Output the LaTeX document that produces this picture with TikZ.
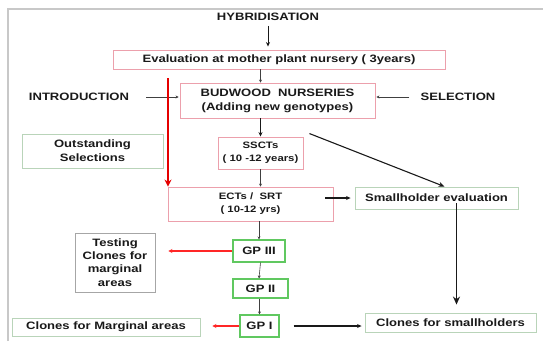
\documentclass[tikz,border=0pt]{standalone}
\usepackage{fontspec}
\setmainfont{Liberation Sans}[FakeStretch=1.22]
\usepackage{xcolor}
\usepackage{tikz}
\usetikzlibrary{
    positioning,
    arrows.meta,
    calc,
}
\definecolor{pinkline}{RGB}{236,160,172}
\definecolor{gpgreen}{RGB}{96,200,96}
\definecolor{palegreen}{RGB}{185,212,185}
\definecolor{frameline}{RGB}{200,200,200}
\tikzset{
    % Text styles
    txt/.style={font=\bfseries\fontsize{10.7}{14}\selectfont, text=black!90, align=center, inner sep=1pt},
    smalltxt/.style={font=\bfseries\fontsize{9.3}{13}\selectfont, text=black!90, align=center},
    % Box styles
    box/.style={rectangle, draw, line width=0.9pt, txt, inner sep=1pt},
    pink box/.style={box, draw=pinkline},
    gp box/.style={box, draw=gpgreen, line width=1.1pt},
    pale box/.style={box, draw=palegreen},
    grey box/.style={box, draw=gray!70, font=\bfseries\fontsize{10.7}{13.3}\selectfont},
    % Arrow styles
    arrow/.style={-{Stealth[length=4.5pt, width=4pt]}, line width=0.9pt, black!90},
    thin arrow/.style={-{Stealth[length=3pt, width=3pt]}, line width=0.6pt, black!75},
    red arrow/.style={-{Stealth[length=7pt, width=7pt]}, line width=2.6pt, red!90!black},
    red thin arrow/.style={-{Stealth[length=4pt, width=4pt]}, line width=1.1pt, red!85},
}

\begin{document}
\begin{tikzpicture}[x=1pt, y=-1pt]
    \useasboundingbox (0,0) rectangle (543,341);

    % Frame
    \draw[frameline, line width=1.2pt] (8,341) -- (8,9) -- (543,9);

    % Upper chain
    \node[txt] (hyb) at (268,17) {HYBRIDISATION};
    \node[pink box, minimum width=332, minimum height=19] (eval) at (279,59.5)
        {Evaluation at mother plant nursery ( 3years)};
    \node[pink box, minimum width=195, minimum height=35] (budwood) at (277.5,100.5)
        {BUDWOOD\ \ NURSERIES\\(Adding new genotypes)};
    \node[txt] (intro) at (79,97) {INTRODUCTION};
    \node[txt] (sel) at (458,97) {SELECTION};
    \node[pale box, minimum width=141, minimum height=34] (outst) at (92.5,151)
        {Outstanding\\Selections};
    \node[pink box, smalltxt, minimum width=85, minimum height=32] (sscts) at (260.5,153)
        {SSCTs\\( 10 -12 years)};
    \node[pink box, smalltxt, minimum width=165, minimum height=34] (ects) at (250.5,204)
        {ECTs /\ \ SRT\\( 10-12 yrs)};
    \node[pale box, minimum width=163, minimum height=22] (smallh) at (436.5,198)
        {Smallholder evaluation};

    % GP series
    \node[gp box, minimum width=52, minimum height=22] (gp3) at (259,251) {GP III};
    \node[gp box, minimum width=55, minimum height=19] (gp2) at (260.5,288.5) {GP II};
    \node[gp box, minimum width=39, minimum height=22] (gp1) at (259.5,326) {GP I};
    \node[grey box, minimum width=80, minimum height=59] (testing) at (115,262.5)
        {Testing\\Clones for\\marginal\\areas};
    \node[pale box, minimum width=188, minimum height=18] (clmarg) at (106,327)
        {Clones for Marginal areas};
    \node[pale box, minimum width=171, minimum height=19] (clsmall) at (450.5,322.5)
        {Clones for smallholders};

    % Arrows
    \draw[arrow, shorten <=4pt, shorten >=3pt] (hyb.south) -- (hyb.south |- eval.north);
    \draw[thin arrow] (eval.south -| sscts.north) -- (budwood.north -| sscts.north);
    \draw[arrow] (budwood.south -| sscts.north) -- (sscts.north);
    \draw[thin arrow] (sscts.south) -- (sscts.south |- ects.north);
    \draw[thin arrow, shorten <=16pt, shorten >=1pt] (intro.east) -- (intro.east -| budwood.west);
    \draw[thin arrow, shorten <=10pt, shorten >=1pt] (sel.west) -- (sel.west -| budwood.east);
    \coordinate (redtop) at (168,78);
    \draw[red arrow] (redtop) -- (redtop |- ects.north);
    \draw[arrow, line width=1.1pt, -{Stealth[length=6pt, width=5pt]}] ([xshift=6pt, yshift=3pt]sscts.north east) -- ([xshift=8pt]smallh.north);
    \draw[arrow, line width=1.3pt, shorten <=-8pt, shorten >=4pt] (ects.east |- smallh.west) -- (smallh.west);
    \coordinate (smdown) at ([xshift=20pt, yshift=6pt]smallh.south);
    \draw[arrow, line width=1.5pt, -{Stealth[length=8pt, width=7pt]}, shorten >=8pt] (smdown) -- (smdown |- clsmall.north);
    \draw[thin arrow] (ects.south -| gp3.north) -- (gp3.north);
    \draw[thin arrow] (gp3.south -| gp2.north) -- (gp2.north -| gp3.north);
    \draw[thin arrow] (gp2.south -| gp1.north) -- (gp1.north);
    \draw[red thin arrow, shorten >=13pt] (gp3.west) -- (gp3.west -| testing.east);
    \draw[red thin arrow, shorten >=12pt] (gp1.west) -- (gp1.west -| clmarg.east);
    \draw[arrow, line width=1.1pt, shorten <=14pt, shorten >=3pt] (gp1.east) -- (gp1.east -| clsmall.west);
\end{tikzpicture}
\end{document}
